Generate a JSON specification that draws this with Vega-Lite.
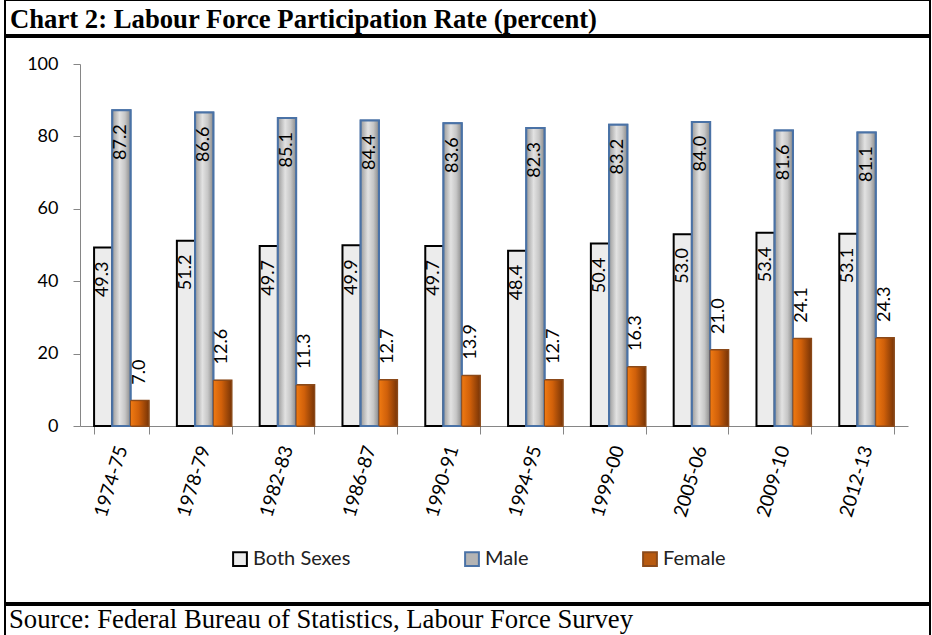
{
  "$schema": "https://vega.github.io/schema/vega-lite/v6.json",
  "padding": {"left": -5, "top": -1, "right": 0, "bottom": 0},
  "spacing": 0,
  "resolve": {"legend": {"fill": "independent", "stroke": "independent"}, "scale": {"fill": "independent", "stroke": "independent"}},
  "config": {
    "view": {"stroke": "black", "strokeWidth": 2},
    "axis": {"labelFont": "Lato", "labelColor": "black", "domainColor": "#868686", "tickColor": "#868686", "grid": false},
    "legend": {"labelFont": "Lato", "labelColor": "#222222"}
  },
  "vconcat": [
    {
      "width": 925,
      "height": 35,
      "view": {"stroke": "black", "strokeWidth": 2},
      "data": {"values": [{}]},
      "mark": {"type": "text"},
      "encoding": {"text": {"value": ""}},
      "title": {"text": "Chart 2: Labour Force Participation Rate (percent)", "anchor": "start", "frame": "group", "offset": -34, "dx": 5, "font": "Liberation Serif", "fontSize": 26.7, "fontWeight": "bold", "color": "black"}
    },
    {
      "width": 925,
      "height": 566,
      "view": {"stroke": "black", "strokeWidth": 2},
      "data": {
        "values": [
          {"period": "1974-75", "sex": "Both Sexes", "value": 49.3},
          {"period": "1974-75", "sex": "Male", "value": 87.2},
          {"period": "1974-75", "sex": "Female", "value": 7.0},
          {"period": "1978-79", "sex": "Both Sexes", "value": 51.2},
          {"period": "1978-79", "sex": "Male", "value": 86.6},
          {"period": "1978-79", "sex": "Female", "value": 12.6},
          {"period": "1982-83", "sex": "Both Sexes", "value": 49.7},
          {"period": "1982-83", "sex": "Male", "value": 85.1},
          {"period": "1982-83", "sex": "Female", "value": 11.3},
          {"period": "1986-87", "sex": "Both Sexes", "value": 49.9},
          {"period": "1986-87", "sex": "Male", "value": 84.4},
          {"period": "1986-87", "sex": "Female", "value": 12.7},
          {"period": "1990-91", "sex": "Both Sexes", "value": 49.7},
          {"period": "1990-91", "sex": "Male", "value": 83.6},
          {"period": "1990-91", "sex": "Female", "value": 13.9},
          {"period": "1994-95", "sex": "Both Sexes", "value": 48.4},
          {"period": "1994-95", "sex": "Male", "value": 82.3},
          {"period": "1994-95", "sex": "Female", "value": 12.7},
          {"period": "1999-00", "sex": "Both Sexes", "value": 50.4},
          {"period": "1999-00", "sex": "Male", "value": 83.2},
          {"period": "1999-00", "sex": "Female", "value": 16.3},
          {"period": "2005-06", "sex": "Both Sexes", "value": 53.0},
          {"period": "2005-06", "sex": "Male", "value": 84.0},
          {"period": "2005-06", "sex": "Female", "value": 21.0},
          {"period": "2009-10", "sex": "Both Sexes", "value": 53.4},
          {"period": "2009-10", "sex": "Male", "value": 81.6},
          {"period": "2009-10", "sex": "Female", "value": 24.1},
          {"period": "2012-13", "sex": "Both Sexes", "value": 53.1},
          {"period": "2012-13", "sex": "Male", "value": 81.1},
          {"period": "2012-13", "sex": "Female", "value": 24.3}
        ]
      },
      "encoding": {
        "x": {
          "field": "period", "type": "nominal", "sort": null,
          "scale": {"range": [75, 903], "paddingInner": 0.34, "paddingOuter": 0.17},
          "axis": {"title": null, "offset": -177, "labelAngle": -73, "labelFontSize": 19, "tickBand": "extent", "tickSize": 8, "labelPadding": 12}
        },
        "xOffset": {"field": "sex", "type": "nominal", "scale": {"domain": ["Both Sexes", "Male", "Female"], "paddingInner": 0, "paddingOuter": 0}},
        "y": {
          "field": "value", "type": "quantitative",
          "scale": {"domain": [0, 100], "range": [389, 27], "nice": false, "zero": true},
          "axis": {"title": null, "values": [0, 20, 40, 60, 80, 100], "offset": -75, "tickSize": 7, "labelPadding": 15, "labelFontSize": 18}
        }
      },
      "layer": [
        {
          "mark": {"type": "bar", "strokeWidth": 2},
          "encoding": {
            "fill": {"field": "sex", "type": "nominal", "scale": {"domain": ["Both Sexes", "Male", "Female"], "range": ["#ececec", "#b4b4b4", "#b85a10"]},
              "legend": {"title": null, "orient": "none", "legendX": 225, "legendY": 512, "direction": "horizontal", "symbolType": "square", "symbolSize": 190, "symbolStrokeWidth": 2, "labelFontSize": 20, "columnPadding": 110, "labelOffset": 3}},
            "stroke": {"field": "sex", "type": "nominal", "scale": {"domain": ["Both Sexes", "Male", "Female"], "range": ["#000000", "#4a72a6", "#8b4a1a"]},
              "legend": {"title": null, "orient": "none", "legendX": 225, "legendY": 512, "direction": "horizontal", "symbolType": "square", "symbolSize": 190, "symbolStrokeWidth": 2, "labelFontSize": 20, "columnPadding": 110, "labelOffset": 3}}
          }
        },
        {
          "transform": [{"filter": "datum.sex === 'Male'"}],
          "mark": {"type": "bar", "stroke": "#4a72a6", "strokeWidth": 2,
            "fill": {"gradient": "linear", "x1": 0, "y1": 0, "x2": 1, "y2": 0, "stops": [
              {"offset": 0, "color": "#9a9a9a"}, {"offset": 0.4, "color": "#e2e2e2"}, {"offset": 0.7, "color": "#c6c6c6"}, {"offset": 1, "color": "#8a8a8a"}]}}
        },
        {
          "transform": [{"filter": "datum.sex === 'Female'"}],
          "mark": {"type": "bar", "stroke": "#8b4a1a", "strokeWidth": 1,
            "fill": {"gradient": "linear", "x1": 0, "y1": 0, "x2": 1, "y2": 0, "stops": [
              {"offset": 0, "color": "#f07a12"}, {"offset": 0.45, "color": "#d0600a"}, {"offset": 1, "color": "#7a3506"}]}}
        },
        {
          "transform": [{"filter": "datum.sex !== 'Female'"}],
          "mark": {"type": "text", "angle": 270, "align": "right", "baseline": "middle", "dx": -14, "font": "Lato", "fontSize": 18, "color": "black"},
          "encoding": {"text": {"field": "value", "type": "quantitative", "format": ".1f"}}
        },
        {
          "transform": [{"filter": "datum.sex === 'Female'"}],
          "mark": {"type": "text", "angle": 270, "align": "left", "baseline": "middle", "dx": 16, "font": "Lato", "fontSize": 18, "color": "black"},
          "encoding": {"text": {"field": "value", "type": "quantitative", "format": ".1f"}}
        }
      ]
    },
    {
      "width": 925,
      "height": 31,
      "view": {"stroke": "black", "strokeWidth": 2},
      "data": {"values": [{}]},
      "mark": {"type": "text"},
      "encoding": {"text": {"value": ""}},
      "title": {"text": "Source: Federal Bureau of Statistics, Labour Force Survey", "anchor": "start", "frame": "group", "offset": -29, "dx": 4, "font": "Liberation Serif", "fontSize": 26.7, "fontWeight": "normal", "color": "black"}
    }
  ]
}
